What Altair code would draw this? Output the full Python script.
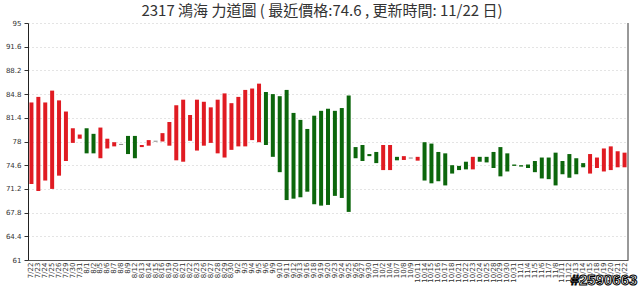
import altair as alt
import pandas as pd

dates = ["7/22","7/23","7/24","7/25","7/26","7/29","7/30","7/31",
         "8/1","8/2","8/5","8/6","8/7","8/8","8/9","8/12","8/13","8/14","8/15","8/16",
         "8/19","8/20","8/21","8/22","8/23","8/26","8/27","8/28","8/29","8/30",
         "9/2","9/3","9/4","9/5","9/6","9/9","9/10","9/11","9/12","9/13","9/16",
         "9/18","9/19","9/20","9/23","9/24","9/25","9/26","9/27","9/30",
         "10/1","10/2","10/4","10/7","10/8","10/9","10/11","10/14","10/15","10/16",
         "10/17","10/18","10/21","10/22","10/23","10/24","10/25","10/28","10/29",
         "10/30","10/31","11/1","11/4","11/5","11/6","11/7","11/8","11/11","11/12",
         "11/13","11/14","11/15","11/18","11/19","11/20","11/21","11/22"]

highs = [83.6,84.4,83.6,85.3,83.9,82.3,79.9,79.0,79.9,79.1,
         80.0,78.4,77.9,77.65,78.8,78.8,77.5,78.2,78.1,79.2,
         80.8,83.2,84.0,81.8,84.0,83.7,82.9,84.0,84.9,83.5,
         84.4,85.4,85.6,86.3,85.1,84.8,84.5,85.4,82.1,81.1,
         79.8,81.7,82.4,82.7,82.4,82.8,84.6,77.2,77.5,76.2,
         76.5,77.5,77.5,75.8,75.9,75.68,75.8,77.9,77.7,76.5,
         76.3,74.6,74.5,75.1,75.8,75.8,75.8,76.5,77.2,76.3,
         74.7,74.6,74.7,75.2,75.7,75.7,76.4,75.2,76.2,75.6,
         74.9,76.2,75.7,77.0,77.3,76.6,76.4]

lows = [71.9,70.9,72.4,71.2,73.1,75.2,77.8,78.4,76.3,76.3,
        75.6,77.0,77.3,77.55,76.2,75.6,77.2,77.4,78.0,78.0,
        77.4,75.3,75.1,78.1,76.7,77.4,77.8,76.3,75.7,76.8,
        77.3,77.3,78.2,77.9,77.5,75.8,73.6,69.6,69.8,70.0,
        70.8,69.0,68.8,68.9,70.2,69.9,67.9,75.6,75.2,75.9,
        74.9,73.9,73.9,75.3,75.35,75.58,75.25,72.4,72.0,72.3,
        71.7,73.4,73.9,74.0,74.0,75.1,75.0,74.2,73.0,73.7,
        74.5,74.4,74.2,73.6,72.7,72.6,71.7,73.3,72.8,73.3,
        74.3,73.4,74.2,73.7,73.9,74.3,74.3]

# u = rising (red), d = falling (green), f = flat
moves = list("uuuuuuuuddu" "uufdduufuu" "uuuuuuuuuu" "uuuddddddd" "ddddddddd" "duudufud"
             "ddddddud" "ddddddddddddddd" "uuuuuuu")

tick_values = [61, 64.4, 67.8, 71.2, 74.6, 78, 81.4, 84.8, 88.2, 91.6, 95]
title_text = "2317 鴻海 力道圖 ( 最近價格:74.6 , 更新時間: 11/22 日)"
watermark = "#2590663"

df = pd.DataFrame({"date": dates, "hi": highs, "lo": lows, "move": moves[:len(dates)]})

W, H = 600, 237

bars = alt.Chart(df).mark_bar(size=4).encode(
    x=alt.X("date:N", sort=None,
            scale=alt.Scale(paddingInner=0, paddingOuter=0),
            axis=alt.Axis(title=None, labelAngle=270, labelFontSize=7, labelFont="DejaVu Sans",
                          labelColor="#333", ticks=False, labelPadding=2, domainColor="#555",
                          labelOverlap=False, grid=False)),
    y=alt.Y("hi:Q", scale=alt.Scale(domain=[61, 95], nice=False, zero=False),
            axis=alt.Axis(title=None, values=tick_values, format=".1~f", labelFontSize=7,
                          labelFont="DejaVu Sans", labelColor="#333", tickSize=4,
                          tickColor="#333", domainColor="#222", labelPadding=3,
                          grid=True, gridColor="#c8c8c8", gridDash=[1, 3])),
    y2="lo:Q",
    color=alt.Color("move:N", scale=alt.Scale(domain=["u", "d", "f"],
                                              range=["#e01b22", "#0c660c", "#555555"]),
                    legend=None),
)

border = alt.Chart(pd.DataFrame({"a": [0]})).mark_rule(color="#333", strokeWidth=1).encode(
    x=alt.value(W), y=alt.value(0), y2=alt.value(H))

mark = alt.Chart(pd.DataFrame({"t": [watermark]})).mark_text(
    fontSize=15, fontWeight="bold", font="Liberation Sans", fill="white", stroke="black",
    strokeWidth=1, align="center", baseline="middle").encode(
    text="t:N", x=alt.value(576), y=alt.value(257))

chart = alt.layer(bars, border, mark).properties(
    width=W, height=H,
    title=alt.TitleParams(title_text, font="Noto Sans CJK TC", fontSize=15,
                          fontWeight="normal", color="#333", anchor="middle", offset=0, dx=-6),
    padding={"left": 28, "top": 23, "right": 12, "bottom": 28},
    autosize="none",
).configure_view(stroke=None)

chart.save("out.html", embed_options={"renderer": "svg", "actions": False})
